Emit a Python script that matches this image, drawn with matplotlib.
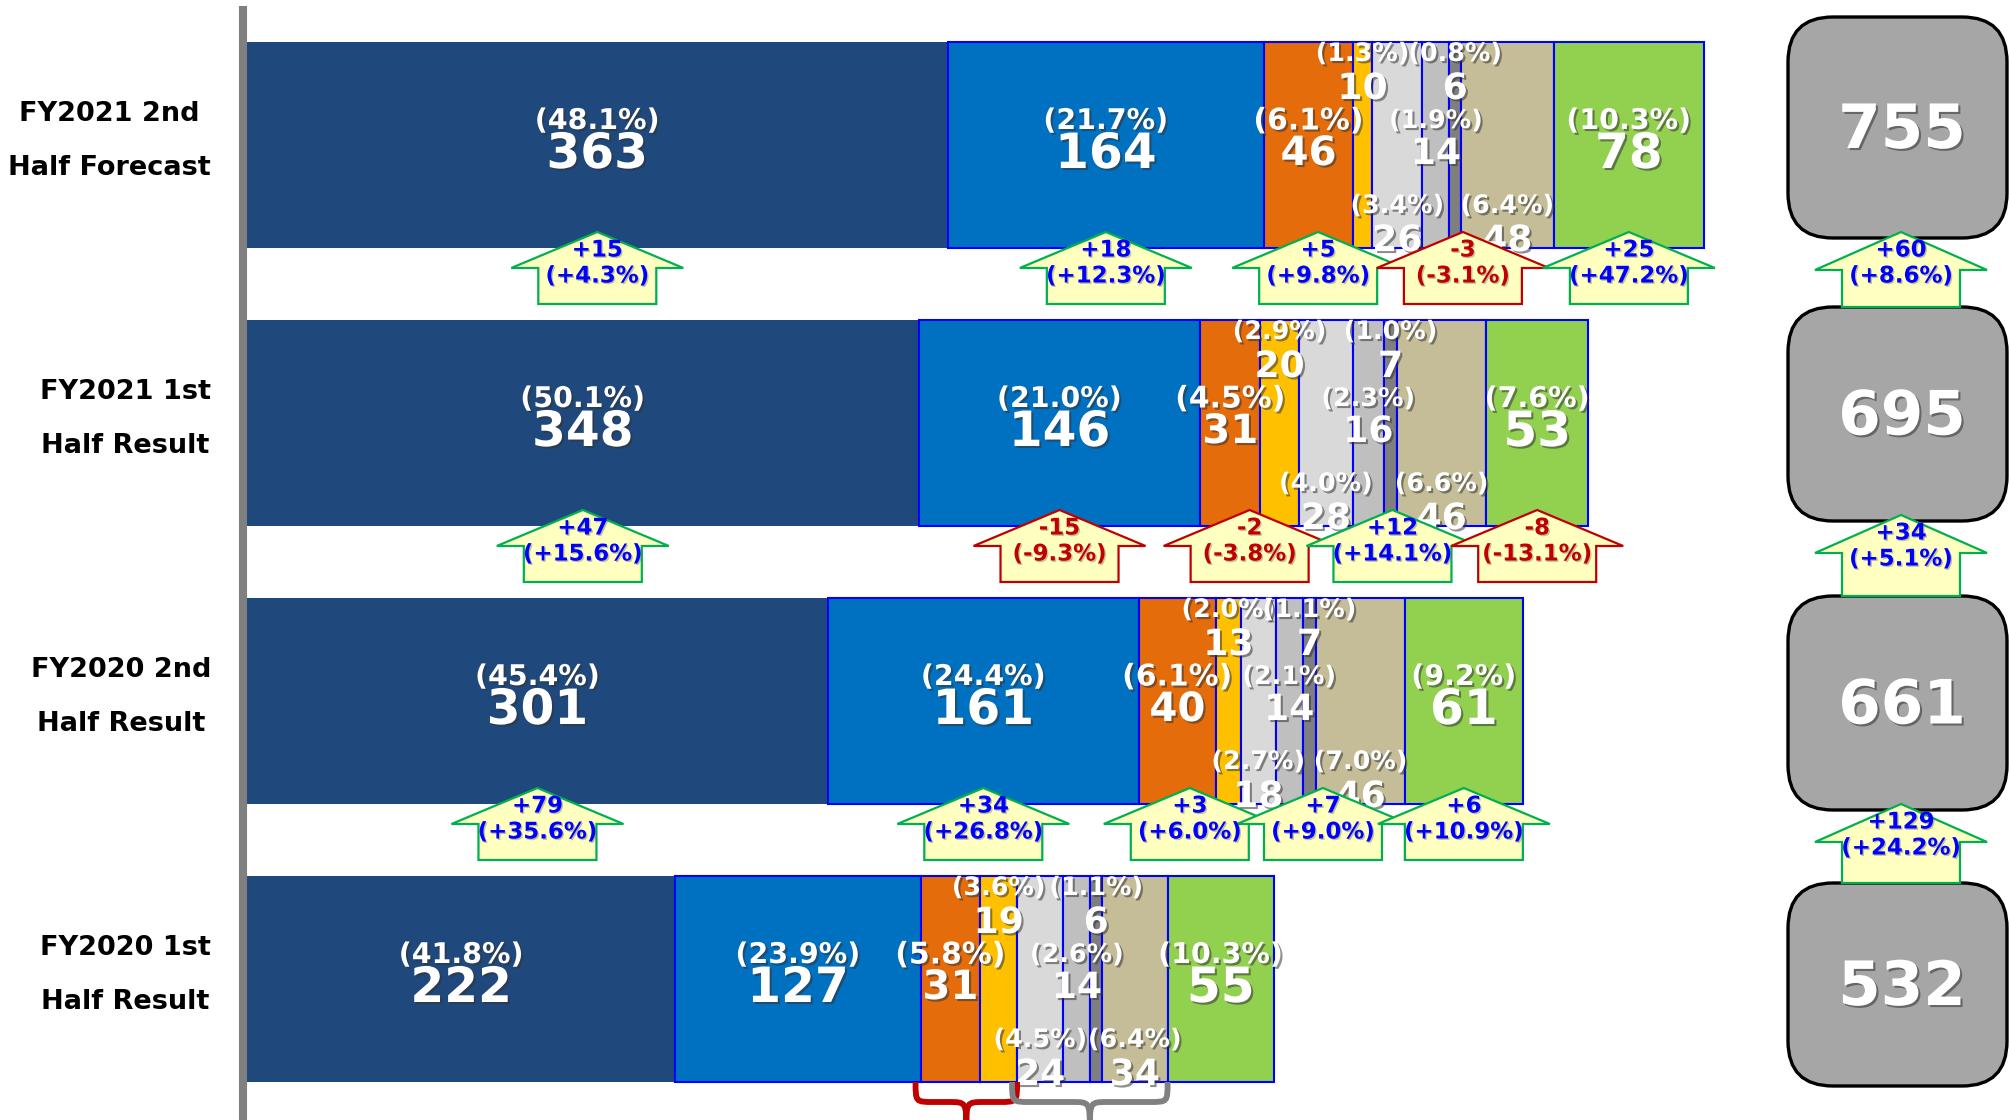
import numpy as np
import matplotlib.pyplot as plt
import matplotlib.patheffects as pe
from matplotlib.patches import Polygon, FancyBboxPatch, PathPatch
from matplotlib.path import Path

plt.rcParams['font.family'] = ['DejaVu Sans']

periods = ["FY2021 2nd\nHalf Forecast", "FY2021 1st\nHalf Result",
           "FY2020 2nd\nHalf Result", "FY2020 1st\nHalf Result"]

values = [
    [363, 164, 46, 10, 26, 14, 6, 48, 78],
    [348, 146, 31, 20, 28, 16, 7, 46, 53],
    [301, 161, 40, 13, 18, 14, 7, 46, 61],
    [222, 127, 31, 19, 24, 14, 6, 34, 55],
]
shares = [
    [48.1, 21.7, 6.1, 1.3, 3.4, 1.9, 0.8, 6.4, 10.3],
    [50.1, 21.0, 4.5, 2.9, 4.0, 2.3, 1.0, 6.6, 7.6],
    [45.4, 24.4, 6.1, 2.0, 2.7, 2.1, 1.1, 7.0, 9.2],
    [41.8, 23.9, 5.8, 3.6, 4.5, 2.6, 1.1, 6.4, 10.3],
]
totals = [755, 695, 661, 532]

# change vs the row below, per group
changes = [
    [15, 18, 5, -3, 25],
    [47, -15, -2, 12, -8],
    [79, 34, 3, 7, 6],
]
change_pct = [
    [4.3, 12.3, 9.8, -3.1, 47.2],
    [15.6, -9.3, -3.8, 14.1, -13.1],
    [35.6, 26.8, 6.0, 9.0, 10.9],
]
total_changes = [60, 34, 129]
total_change_pct = [8.6, 5.1, 24.2]

groups = [[0], [1], [2, 3], [4, 5, 6, 7], [8]]
colors = ['#1F497D', '#0070C0', '#E46C0A', '#FFC000', '#D9D9D9',
          '#BFBFBF', '#7F7F7F', '#C4BD97', '#92D050']
label_pos = ['mid', 'mid', 'mid', 'top', 'bot', 'mid', 'top', 'bot', 'mid']
label_size = ['big', 'big', 'med', 'small', 'small', 'small', 'small', 'small', 'big']

# pixel helpers (figure is 2009 x 1120 px)
PX_X = 1.93    # px per unit of value
PX_Y = 278.0   # px per row
X0 = 247       # px where bars start
ROW0 = 145     # px centre of first row


def px_x(p):
    return (p - X0) / PX_X


def dy(p):
    return p / PX_Y


def py(p):
    return (p - ROW0) / PX_Y


fig = plt.figure(figsize=(20.09, 11.2), dpi=100)
ax = fig.add_axes([0, 0, 1, 1])
ax.set_xlim(px_x(0), px_x(2009))
ax.set_ylim(py(1120), py(0))
ax.axis('off')

vals = np.array(values)
lefts = np.hstack([np.zeros((4, 1)), np.cumsum(vals, axis=1)[:, :-1]])
rows = np.arange(4)
bar_h = dy(206)

for j in range(9):
    ax.barh(rows, vals[:, j], left=lefts[:, j], height=bar_h, color=colors[j],
            edgecolor='none' if j == 0 else '#0000FF', linewidth=1.5, zorder=2)

# left axis line
ax.plot([px_x(243)] * 2, [py(6), py(1120)], color='#808080',
        lw=5.8, solid_capstyle='butt', zorder=3)

shadow = [pe.withSimplePatchShadow(offset=(1.5, -1.5), shadow_rgbFace='#333333', alpha=0.55)]
shadow_s = [pe.withSimplePatchShadow(offset=(1.0, -1.0), shadow_rgbFace='#666666', alpha=0.4)]
sizes = {'big': (20.5, 35), 'med': (21.5, 29), 'small': (18.3, 26)}
offsets = {'top': (-91, -56), 'mid': (-24, 9), 'bot': (61, 96)}

for i in range(4):
    ax.text(px_x(211), i - dy(4), periods[i], ha='right', va='center',
            multialignment='center', fontsize=19.5, fontweight='bold', linespacing=2.4)
    for j in range(9):
        xc = lefts[i, j] + vals[i, j] / 2
        fp, fn = sizes[label_size[j]]
        op, on = offsets[label_pos[j]]
        ax.text(xc, i + dy(op), f"({shares[i][j]:.1f}%)", ha='center', va='center',
                fontsize=fp, fontweight='bold', color='white', path_effects=shadow, zorder=3)
        ax.text(xc, i + dy(on), str(values[i][j]), ha='center', va='center',
                fontsize=fn, fontweight='bold', color='white', path_effects=shadow, zorder=3)


def up_arrow(xc, tip, base, head_hw, shaft_hw, head_h, d, p):
    edge = '#00B050' if d >= 0 else '#C00000'
    col = '#0000FF' if d >= 0 else '#C00000'
    hb = tip + head_h
    pts = [(xc, tip), (xc + head_hw, hb), (xc + shaft_hw, hb), (xc + shaft_hw, base),
           (xc - shaft_hw, base), (xc - shaft_hw, hb), (xc - head_hw, hb)]
    ax.add_patch(Polygon(pts, closed=True, facecolor='#FFFFC0', edgecolor=edge,
                         linewidth=1.6, zorder=4))
    ax.text(xc, tip + dy(18), f"{d:+d}", ha='center', va='center', fontsize=16.5,
            fontweight='bold', color=col, path_effects=shadow_s, zorder=5)
    ax.text(xc, tip + dy(44), f"({p:+.1f}%)", ha='center', va='center', fontsize=16.5,
            fontweight='bold', color=col, path_effects=shadow_s, zorder=5)


# arrows between bar rows
for k in range(3):
    bottom = k + bar_h / 2
    tip = bottom - dy(16)
    for g, grp in enumerate(groups):
        xc = (lefts[k, grp[0]] + lefts[k, grp[-1]] + vals[k, grp[-1]]) / 2
        up_arrow(xc, tip, tip + dy(72), 86 / PX_X, 59 / PX_X, dy(36),
                 changes[k][g], change_pct[k][g])

# total boxes (pixel rows of box tops / bottoms)
box_top = [17, 307, 596, 883]
box_bot = [238, 521, 810, 1086]
bx0, bx1 = px_x(1788), px_x(2007)
r = 45 / PX_X
for i in range(4):
    y0, y1 = py(box_top[i]), py(box_bot[i])
    ax.add_patch(FancyBboxPatch((bx0, y0), bx1 - bx0, y1 - y0,
                                boxstyle=f"round,pad=0,rounding_size={r}",
                                mutation_aspect=PX_X / PX_Y, facecolor='#A6A6A6',
                                edgecolor='black', linewidth=2.4, zorder=2))
    ax.text(px_x(1902), (y0 + y1) / 2 + dy(4), str(totals[i]), ha='center', va='center',
            fontsize=44, fontweight='bold', color='white', path_effects=shadow, zorder=3)

for k in range(3):
    tip = py(box_bot[k] - 6)
    base = py(box_top[k + 1])
    up_arrow(px_x(1901), tip, base, 86 / PX_X, 59 / PX_X, dy(38),
             total_changes[k], total_change_pct[k])

# braces under the last row
ytop = 3 + bar_h / 2
ymid = ytop + dy(20)
ybot = ytop + dy(48)
rr = 18 / PX_X
for grp, col in [([2, 3], '#C00000'), ([4, 5, 6, 7], '#808080')]:
    x0 = lefts[3, grp[0]] - 5 / PX_X
    x1 = lefts[3, grp[-1]] + vals[3, grp[-1]]
    xc = (x0 + x1) / 2
    verts = [(x0, ytop), (x0, ymid), (x0, ymid), (x0 + rr, ymid),
             (xc - rr, ymid), (xc, ymid), (xc, ymid), (xc, ybot),
             (xc, ymid), (xc, ymid), (xc + rr, ymid),
             (x1 - rr, ymid), (x1, ymid), (x1, ymid), (x1, ytop)]
    codes = [Path.MOVETO, Path.CURVE4, Path.CURVE4, Path.CURVE4,
             Path.LINETO, Path.CURVE4, Path.CURVE4, Path.CURVE4,
             Path.CURVE4, Path.CURVE4, Path.CURVE4,
             Path.LINETO, Path.CURVE4, Path.CURVE4, Path.CURVE4]
    ax.add_patch(PathPatch(Path(verts, codes), facecolor='none', edgecolor=col,
                           lw=4.2, zorder=3))

fig.savefig('out.png', dpi=100)
